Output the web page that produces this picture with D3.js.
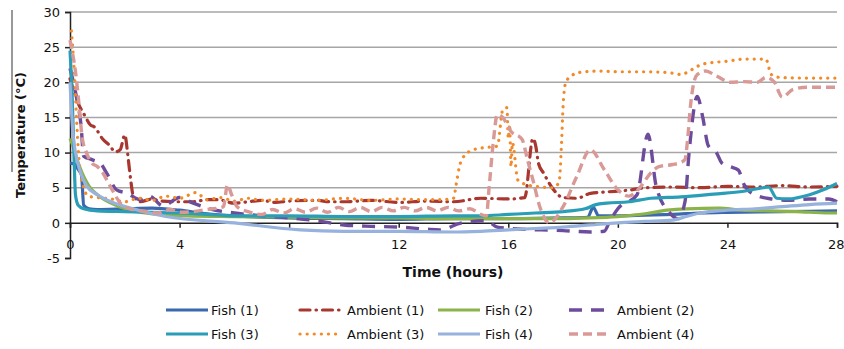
<!DOCTYPE html>
<html><head><meta charset="utf-8">
<script src="https://cdn.jsdelivr.net/npm/d3@7"></script>
<style>
body{margin:0;background:#fff;}
svg{display:block;}
text{font-family:"DejaVu Sans",sans-serif;fill:#111;}
</style></head>
<body><svg id="c" width="844" height="349"></svg>
<script>
// ---- data (time in hours, temperature in °C) ----
const xTicks = [0,4,8,12,16,20,24,28];
const yTicks = [-5,0,5,10,15,20,25,30];
const seriesNames = ["Fish (1)","Ambient (1)","Fish (2)","Ambient (2)","Fish (3)","Ambient (3)","Fish (4)","Ambient (4)"];

const fish1 = [[0,8.5],[0.2,8.3],[0.3,7.6],[0.42,6.8],[0.5,2.5],[0.7,2.0],[1,1.9],[2,2.0],[3,2.1],[4,1.8],[5,1.3],[6,1.0],[8,0.7],[10,0.6],[12,0.5],[14,0.6],[16,0.6],[18,0.7],[18.9,0.8],[19.1,2.2],[19.3,1.0],[20,1.0],[21,1.1],[22,1.2],[23,1.4],[24,1.5],[26,1.6],[28,1.7]];
const amb1 = [[0,20.5],[0.3,17],[0.55,15.2],[0.73,14],[0.9,13.6],[1.2,11.9],[1.45,11],[1.65,10.1],[1.83,10.4],[2.0,12.5],[2.1,10],[2.15,8.3],[2.22,6],[2.3,4],[2.55,3],[3.0,3.4],[3.3,3.1],[4,3.0],[4.5,3.0],[5,3.3],[5.4,3.3],[6,2.8],[6.5,3.0],[7,3.2],[7.5,2.9],[8,3.1],[9,3.2],[9.5,3.0],[10,3.0],[11,3.2],[12,2.9],[13,3.1],[14,3.0],[15,3.5],[16,3.4],[16.6,3.6],[16.9,12],[17.0,11],[17.1,8.5],[17.3,7],[17.6,5],[18,3.6],[18.5,3.5],[19,4.2],[19.6,4.4],[20.5,4.7],[21,5],[22,5.1],[23,5],[24,5.2],[25,5.1],[26,5.3],[27,5.1],[28,5.2]];
const fish2 = [[0,12],[0.1,11],[0.35,8],[0.7,5.2],[1,4],[1.5,2.8],[2.6,1.5],[4.3,1.0],[6,0.9],[8,0.8],[10,0.7],[12,0.7],[14,0.6],[16,0.6],[18,0.6],[19,0.7],[20,0.9],[21,1.3],[21.8,1.8],[22.5,2.0],[23.7,2.1],[24.5,1.8],[25.5,1.7],[26.5,1.6],[27.7,1.4],[28,1.4]];
const amb2 = [[0,22],[0.25,17.6],[0.4,14],[0.5,9.5],[0.8,9],[1.1,8.5],[1.35,7],[1.7,4.7],[2.1,4.2],[2.55,3.3],[2.9,3.8],[3.4,2.4],[4,3.6],[4.5,2.8],[5.2,1.9],[6,1.4],[7,1.0],[8,0.7],[9,0.3],[10,-0.3],[11,-0.5],[12,-0.6],[13,-0.9],[13.5,-1.0],[14.3,0],[15.2,0.3],[15.6,-0.6],[16.5,-0.9],[17.2,-1.0],[18,-1.1],[19,-1.3],[19.5,-1.2],[19.7,0.2],[20.0,2],[20.7,4],[21.1,12.6],[21.4,5.2],[21.9,1.4],[22.2,0.6],[22.45,3],[22.6,10],[22.9,18],[23.1,15],[23.3,11],[23.6,10],[23.8,8.5],[24.1,8],[24.4,7.5],[24.6,5.5],[25,4],[25.6,3.4],[26.2,3.2],[27,3.4],[27.7,3.4],[28,3]];
const fish3 = [[0,24.5],[0.08,18],[0.15,9],[0.2,4],[0.3,2.5],[0.5,2.0],[1,1.7],[2,1.6],[3,1.5],[4,1.4],[5,1.2],[6,1.0],[8,1.0],[10,0.9],[12,0.9],[14,1.0],[15,1.0],[16,1.2],[17,1.4],[18,1.6],[18.8,2.0],[19.2,2.6],[19.6,2.8],[20.4,3.0],[21.2,3.5],[22.3,3.7],[23.5,4.1],[24.6,4.5],[25.3,5.0],[25.5,5.1],[25.8,3.5],[26.2,3.4],[27,4.0],[27.5,4.7],[28,5.6]];
const amb3 = [[0.05,27.3],[0.15,22],[0.25,14],[0.35,8],[0.5,5],[0.67,3.8],[1,3.6],[1.5,3.4],[2,3.0],[2.5,3.5],[3,3.2],[3.5,3.8],[4,3.5],[4.6,4.3],[5,3.3],[5.5,3.6],[6,3.1],[6.5,3.5],[7,3.2],[8,3.4],[9,3.2],[10,3.5],[11,3.2],[12,3.4],[13,3.3],[13.6,3.3],[14.0,3.5],[14.1,5.5],[14.25,8.5],[14.6,10.2],[15.1,10.7],[15.6,10.9],[15.8,16.1],[15.95,16.4],[16.0,12],[16.05,14],[16.1,8],[16.15,11.4],[16.35,6.1],[16.7,5.4],[17.2,5.1],[17.6,5.0],[17.85,5.7],[17.95,11.9],[18.0,16.6],[18.1,20],[18.3,20.9],[18.6,21.4],[19.3,21.6],[20,21.5],[21,21.5],[22,21.3],[22.3,21.1],[22.7,21.8],[23.1,22.6],[24,23.0],[24.6,23.3],[25.4,23.3],[25.6,21.1],[25.9,20.7],[27,20.6],[28,20.6]];
const fish4 = [[0,20],[0.1,13],[0.2,10],[0.4,7],[0.6,5.3],[1,4],[1.5,3],[2.2,2.1],[3.5,0.9],[6,0],[8.4,-1.0],[10,-1.2],[12,-1.2],[14,-1.3],[15,-1.2],[16,-1.0],[17,-0.8],[18,-0.6],[19,-0.3],[20,0],[21,0.2],[22,0.4],[22.5,0.9],[23,1.4],[24,1.8],[25,2.0],[26,2.3],[27,2.6],[28,2.8]];
const amb4 = [[0,26],[0.1,24],[0.2,21.5],[0.3,18],[0.45,12],[0.6,10],[0.8,8.5],[1.0,8],[1.2,7.1],[1.4,5.7],[1.6,4.3],[1.8,3],[2.1,2.1],[2.8,1.6],[3.2,1.4],[3.65,1.9],[4.1,1.5],[4.5,1.6],[5,1.9],[5.4,2.1],[5.6,2.3],[5.75,5.4],[5.9,4],[6.1,2.3],[6.5,1.6],[7,1.2],[7.4,1.9],[7.8,1.4],[8.2,2.0],[8.6,1.5],[9.0,2.1],[9.4,1.5],[9.8,2.2],[10.2,1.6],[10.6,2.2],[11.0,1.6],[11.4,2.2],[11.8,1.7],[12.2,2.2],[12.6,1.7],[13.0,2.2],[13.4,1.7],[13.8,2.2],[14.2,1.7],[14.6,2.0],[15.0,1.2],[15.2,1.0],[15.3,5],[15.45,11.4],[15.6,15.4],[15.8,15],[16.1,13],[16.5,11.9],[16.7,9],[16.9,6.1],[17.15,2.3],[17.5,0],[18,2.3],[18.5,6.6],[19.0,10.4],[19.5,7.6],[20,4.7],[20.4,3.8],[20.8,5],[21.2,7.1],[21.5,8],[22,8.3],[22.3,8.6],[22.45,9],[22.55,12],[22.65,16.6],[22.75,19.5],[22.9,21.1],[23.2,21.6],[23.6,20.9],[24.1,20],[24.6,20.1],[25.1,20],[25.4,20.7],[25.7,20.1],[26.0,17.9],[26.4,19],[26.9,19.3],[27.5,19.3],[28,19.3]];

const seriesData = [fish1, amb1, fish2, amb2, fish3, amb3, fish4, amb4];

// ---- styles ----
const styles = [
  {color:"#3b69ad", dash:null, width:3.2, cap:"butt"},
  {color:"#a8372f", dash:"10,6,0.5,6", width:3.2, cap:"round"},
  {color:"#8bb34a", dash:null, width:3.2, cap:"butt"},
  {color:"#6d4c9c", dash:"13,9", width:3.4, cap:"butt"},
  {color:"#2a9db7", dash:null, width:3.2, cap:"butt"},
  {color:"#f28a2a", dash:"0.1,7", width:3.2, cap:"round"},
  {color:"#96b2dd", dash:null, width:3.2, cap:"butt"},
  {color:"#d99a97", dash:"9,5", width:3.4, cap:"butt"}
];

const svg = d3.select("#c");
const x = d3.scaleLinear().domain([0,28]).range([70,837]);
const y = d3.scaleLinear().domain([-5,30]).range([258,12]);

// gridlines
svg.append("g").selectAll("line").data(yTicks.filter(v=>v>0)).join("line")
  .attr("x1",x(0)).attr("x2",x(28)).attr("y1",d=>y(d)).attr("y2",d=>y(d))
  .attr("stroke","#a6a6a6").attr("stroke-width",1.5);

// y axis
const ya = svg.append("g").attr("transform",`translate(${x(0)},0)`)
  .call(d3.axisLeft(y).tickValues(yTicks).tickSize(5).tickPadding(5).tickFormat(d=>String(d)));
ya.select(".domain").attr("stroke","#222").attr("stroke-width",1.5);
ya.selectAll(".tick line").attr("stroke","#222").attr("stroke-width",1.5);
ya.selectAll("text").attr("font-size",13).attr("fill","#111");

// x axis at y=0
const xa = svg.append("g").attr("transform",`translate(0,${y(0)})`)
  .call(d3.axisBottom(x).tickValues(xTicks).tickSize(5).tickPadding(12).tickFormat(d=>String(d)));
xa.select(".domain").attr("stroke","#222").attr("stroke-width",1.5);
xa.selectAll(".tick line").attr("stroke","#222").attr("stroke-width",1.5);
xa.selectAll("text").attr("font-size",13).attr("fill","#111");
xa.selectAll(".tick text").filter(d=>d===28).attr("text-anchor","end").attr("x",7);

// series
const line = d3.line().x(d=>x(d[0])).y(d=>y(d[1])).curve(d3.curveMonotoneX);
const plot = svg.append("g");
seriesData.forEach((data,i)=>{
  const s = styles[i];
  plot.append("path").datum(data).attr("d",line)
    .attr("fill","none").attr("stroke",s.color).attr("stroke-width",s.width)
    .attr("stroke-linecap",s.cap).attr("stroke-linejoin","round")
    .attr("stroke-dasharray",s.dash);
});

// axis titles
svg.append("text").attr("x",453).attr("y",277).attr("text-anchor","middle")
  .attr("font-size",14).attr("font-weight","bold").text("Time (hours)");
svg.append("text").attr("transform","translate(25,135) rotate(-90)").attr("text-anchor","middle")
  .attr("font-size",13).attr("font-weight","bold").text("Temperature (°C)");
svg.append("line").attr("x1",12).attr("x2",12).attr("y1",10).attr("y2",172)
  .attr("stroke","#333").attr("stroke-width",1);

// legend
const legX = [166,300,438,569];
const legTextX = [211,347,485,617];
const legY = [310,334];
seriesNames.forEach((name,i)=>{
  const col = i%4, row = Math.floor(i/4);
  const s = styles[i];
  const gy = legY[row];
  svg.append("line").attr("x1",legX[col]).attr("x2",legX[col]+42).attr("y1",gy).attr("y2",gy)
    .attr("stroke",s.color).attr("stroke-width",s.width).attr("stroke-linecap",s.cap)
    .attr("stroke-dasharray",s.dash);
  svg.append("text").attr("x",legTextX[col]).attr("y",gy+5).attr("font-size",13)
    .text(name);
});
</script></body></html>
